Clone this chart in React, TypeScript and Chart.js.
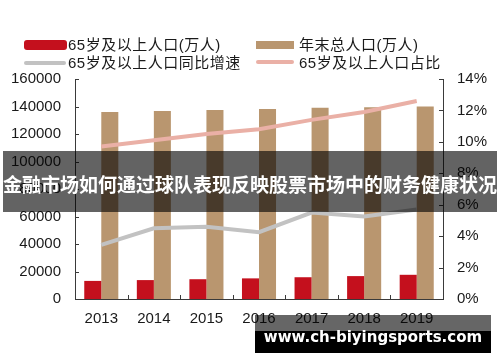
import React, { useEffect, useRef } from "react";
import { Chart, registerables } from "chart.js";

Chart.register(...registerables);

const years = ["2013", "2014", "2015", "2016", "2017", "2018", "2019"];
const pop65 = [13161, 13755, 14386, 15003, 15831, 16658, 17603];
const popTotal = [136072, 136782, 137462, 138271, 139008, 139538, 140005];
const growth65 = [3.45, 4.5, 4.6, 4.25, 5.5, 5.25, 5.7];
const share65 = [9.7, 10.1, 10.5, 10.8, 11.4, 11.9, 12.6];

const legendLabels = [
  "65岁及以上人口(万人)",
  "年末总人口(万人)",
  "65岁及以上人口同比增速",
  "65岁及以上人口占比",
];
const titleText = "金融市场如何通过球队表现反映股票市场中的财务健康状况";
const watermarkText = "www.ch-biyingsports.com";

const RED = "#C4101D";
const TAN = "#B9966F";
const GRAY = "#C2C2C2";
const PINK = "#EAB0A6";
const AXIS = "#3a3a3a";
const TEXT = "#1a1a1a";

const inwardTicks = {
  id: "inwardTicks",
  afterDatasetsDraw(chart: any) {
    const { ctx, chartArea, scales } = chart;
    const { left, right, bottom } = chartArea;
    ctx.save();
    ctx.strokeStyle = AXIS;
    ctx.lineWidth = 1;
    ctx.beginPath();
    scales.y.ticks.forEach((_t: any, i: number) => {
      const py = Math.round(scales.y.getPixelForTick(i)) + 0.5;
      ctx.moveTo(left, py);
      ctx.lineTo(left + 4, py);
    });
    scales.y1.ticks.forEach((_t: any, i: number) => {
      const py = Math.round(scales.y1.getPixelForTick(i)) + 0.5;
      ctx.moveTo(right - 4, py);
      ctx.lineTo(right, py);
    });
    for (let i = 1; i < years.length; i++) {
      const px =
        Math.round((scales.x.getPixelForTick(i - 1) + scales.x.getPixelForTick(i)) / 2) + 0.5;
      ctx.moveTo(px, bottom);
      ctx.lineTo(px, bottom - 4);
    }
    ctx.stroke();
    ctx.restore();
  },
};

const legendFont: React.CSSProperties = {
  position: "absolute",
  fontFamily: '"Liberation Sans", "Noto Sans CJK SC", sans-serif',
  fontSize: 15,
  lineHeight: "18px",
  color: TEXT,
  letterSpacing: "0.5px",
  whiteSpace: "nowrap",
};

export default function App() {
  const canvasRef = useRef<HTMLCanvasElement | null>(null);

  useEffect(() => {
    const canvas = canvasRef.current;
    if (!canvas) return;
    const tickFont = { family: '"Liberation Sans", Arial, sans-serif', size: 15 };
    const chart = new Chart(canvas, {
      type: "bar",
      data: {
        labels: years,
        datasets: [
          {
            type: "line",
            label: legendLabels[2],
            data: growth65,
            yAxisID: "y1",
            borderColor: GRAY,
            backgroundColor: GRAY,
            borderWidth: 4,
            pointRadius: 0,
            tension: 0,
            order: 0,
          },
          {
            type: "line",
            label: legendLabels[3],
            data: share65,
            yAxisID: "y1",
            borderColor: PINK,
            backgroundColor: PINK,
            borderWidth: 4,
            pointRadius: 0,
            tension: 0,
            order: 0,
          },
          {
            type: "bar",
            label: legendLabels[0],
            data: pop65,
            yAxisID: "y",
            backgroundColor: RED,
            categoryPercentage: 0.648,
            barPercentage: 1,
            order: 1,
          },
          {
            type: "bar",
            label: legendLabels[1],
            data: popTotal,
            yAxisID: "y",
            backgroundColor: TAN,
            categoryPercentage: 0.648,
            barPercentage: 1,
            order: 1,
          },
        ] as any,
      },
      options: {
        responsive: false,
        animation: false,
        layout: { padding: { top: 79, left: 0, right: 0, bottom: 0 } },
        plugins: {
          legend: { display: false },
          tooltip: { enabled: false },
          title: { display: false },
        },
        scales: {
          x: {
            grid: { display: false, drawTicks: false },
            border: { display: true, color: AXIS, width: 1 },
            ticks: { font: tickFont, color: TEXT, padding: 11, maxRotation: 0 },
            afterFit: (s: any) => {
              s.height = 63;
            },
          },
          y: {
            position: "left",
            min: 0,
            max: 160000,
            grid: { display: false, drawTicks: false },
            border: { display: true, color: AXIS, width: 1 },
            ticks: {
              stepSize: 20000,
              font: tickFont,
              color: TEXT,
              padding: 14,
              callback: (v: any) => String(v),
            },
            afterFit: (s: any) => {
              s.width = 75;
            },
          },
          y1: {
            position: "right",
            min: 0,
            max: 14,
            grid: { display: false, drawTicks: false },
            border: { display: true, color: AXIS, width: 1 },
            ticks: {
              stepSize: 2,
              font: tickFont,
              color: TEXT,
              padding: 14,
              callback: (v: any) => v + "%",
            },
            afterFit: (s: any) => {
              s.width = 57;
            },
          },
        },
      } as any,
      plugins: [inwardTicks],
    });
    return () => chart.destroy();
  }, []);

  return (
    <div
      style={{
        position: "fixed",
        left: 0,
        top: 0,
        width: 500,
        height: 362,
        background: "#fff",
        overflow: "hidden",
      }}
    >
      <canvas ref={canvasRef} width={500} height={362} style={{ position: "absolute", left: 0, top: 0 }} />

      {/* legend */}
      <div style={{ position: "absolute", left: 24, top: 40, width: 43, height: 10, borderRadius: 3, background: RED }} />
      <div style={{ ...legendFont, left: 68, top: 36 }}>{legendLabels[0]}</div>
      <div style={{ position: "absolute", left: 256, top: 41, width: 38, height: 8, background: TAN }} />
      <div style={{ ...legendFont, left: 299, top: 36 }}>{legendLabels[1]}</div>
      <div style={{ position: "absolute", left: 24, top: 61, width: 42, height: 4, borderRadius: 2, background: GRAY }} />
      <div style={{ ...legendFont, left: 68, top: 53.5 }}>{legendLabels[2]}</div>
      <div style={{ position: "absolute", left: 256, top: 60, width: 38, height: 4, borderRadius: 2, background: PINK }} />
      <div style={{ ...legendFont, left: 299, top: 53.5 }}>{legendLabels[3]}</div>

      {/* title banner */}
      <div
        style={{
          position: "absolute",
          left: 3,
          top: 151,
          width: 494,
          height: 61,
          background: "rgba(0,0,0,0.61)",
          display: "flex",
          alignItems: "center",
          justifyContent: "center",
        }}
      >
        <span
          style={{
            fontFamily: '"Noto Sans CJK SC", sans-serif',
            fontWeight: 700,
            fontSize: 19,
            color: "#fff",
            whiteSpace: "nowrap",
            marginTop: 3,
          }}
        >
          {titleText}
        </span>
      </div>

      {/* watermark */}
      <div
        style={{
          position: "absolute",
          left: 255,
          top: 315,
          width: 236,
          height: 38,
          background: "rgba(0,0,0,0.6)",
        }}
      >
        <div style={{ position: "absolute", left: 0, top: 16, width: 236, height: 22, background: "#000" }} />
        <div
          style={{
            position: "absolute",
            left: 0,
            top: 12,
            width: 236,
            textAlign: "center",
            fontFamily: '"DejaVu Sans", Verdana, sans-serif',
            fontWeight: 700,
            fontSize: 15,
            lineHeight: "20px",
            color: "#fff",
            whiteSpace: "nowrap",
          }}
        >
          {watermarkText}
        </div>
      </div>
    </div>
  );
}
